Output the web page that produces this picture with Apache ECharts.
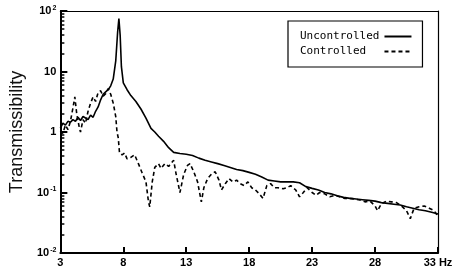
<!DOCTYPE html>
<html><head><meta charset="utf-8">
<script src="https://cdn.jsdelivr.net/npm/echarts@6/dist/echarts.min.js"></script>
<style>html,body{margin:0;padding:0;background:#fff}#c{width:465px;height:271px}</style>
</head><body><div id="c"></div>
<script>
const xTicks = [3, 8, 13, 18, 23, 28, 33];
const yMajor = [0.01, 0.1, 1, 10, 100];
const yMinor = [0.02,0.03,0.04,0.05,0.06,0.07,0.08,0.09,0.2,0.3,0.4,0.5,0.6,0.7,0.8,0.9,2,3,4,5,6,7,8,9,20,30,40,50,60,70,80,90];

const uncFreq = [3.0,3.2,3.4,3.6,3.8,4.0,4.2,4.4,4.6,4.8,5.0,5.2,5.4,5.6,5.8,6.0,6.2,6.4,6.6,6.8,7.0,7.2,7.4,7.55,7.65,7.75,7.85,8.0,8.3,8.6,9.0,9.4,9.8,10.2,10.5,10.8,11.2,11.6,12.0,12.5,13.0,13.5,14.0,14.5,15.0,15.5,16.0,16.5,17.0,17.5,18.0,18.5,19.0,19.5,20.0,20.5,21.0,21.5,22.0,22.5,23.0,23.5,24.0,24.5,25.0,25.5,26.0,26.5,27.0,27.5,28.0,28.5,29.0,29.5,30.0,30.5,31.0,31.5,32.0,32.5,33.0];
const uncVal = [1.15,1.4,1.3,1.5,1.45,1.6,1.5,1.75,1.55,1.8,1.7,1.6,1.9,1.75,2.2,2.6,3.4,4.2,4.6,5.0,5.8,7.5,15,45,75,40,12,6.5,5.0,4.0,3.2,2.4,1.7,1.15,1.0,0.85,0.7,0.55,0.46,0.44,0.43,0.41,0.37,0.34,0.32,0.3,0.28,0.26,0.24,0.23,0.215,0.2,0.18,0.16,0.155,0.15,0.15,0.15,0.145,0.125,0.117,0.11,0.1,0.095,0.088,0.083,0.08,0.078,0.076,0.074,0.072,0.068,0.066,0.064,0.062,0.058,0.055,0.052,0.05,0.047,0.044];

const conFreq = [3.0,3.2,3.4,3.6,3.8,4.0,4.15,4.3,4.5,4.6,4.8,5.0,5.2,5.4,5.6,5.8,6.0,6.2,6.4,6.6,6.8,7.0,7.2,7.4,7.5,7.6,7.7,7.9,8.1,8.3,8.6,8.9,9.2,9.5,9.8,10.0,10.1,10.3,10.5,10.8,11.0,11.3,11.6,12.0,12.2,12.5,12.8,13.1,13.3,13.6,13.9,14.2,14.4,14.7,15.0,15.3,15.6,15.8,16.1,16.4,16.7,17.0,17.3,17.6,17.9,18.2,18.5,18.8,19.1,19.4,19.7,20.0,20.3,20.7,21.0,21.3,21.7,22.0,22.3,22.6,23.0,23.3,23.6,24.0,24.4,24.8,25.2,25.6,26.0,26.4,26.8,27.2,27.6,28.0,28.2,28.5,28.9,29.3,29.7,30.1,30.5,30.8,31.1,31.5,31.9,32.3,32.7,33.0];
const conVal = [1.05,0.95,1.3,1.1,1.5,2.5,3.8,2.0,1.2,1.0,1.6,1.4,2.2,3.0,3.8,3.2,4.5,4.8,3.9,4.3,5.2,4.2,3.0,1.8,1.0,0.8,0.45,0.42,0.45,0.36,0.38,0.42,0.3,0.21,0.15,0.07,0.058,0.15,0.26,0.3,0.25,0.3,0.27,0.34,0.2,0.1,0.2,0.28,0.3,0.22,0.15,0.07,0.12,0.17,0.2,0.22,0.16,0.11,0.14,0.17,0.15,0.16,0.14,0.13,0.15,0.12,0.11,0.095,0.08,0.13,0.14,0.12,0.12,0.115,0.12,0.13,0.11,0.085,0.1,0.12,0.1,0.09,0.1,0.095,0.085,0.09,0.085,0.08,0.08,0.078,0.075,0.07,0.072,0.06,0.05,0.065,0.072,0.07,0.068,0.06,0.05,0.037,0.055,0.058,0.06,0.055,0.05,0.04];

const pair = (xs, ys) => xs.map((x, i) => [x, ys[i]]);
const supLabel = v => {
  if (v >= 99) return '10{s|2}';
  if (v >= 9.9) return '10';
  if (v >= 0.99) return '1';
  if (v >= 0.099) return '10{s|-1}';
  return '10{s|-2}';
};
const lab = {color:'#000', fontFamily:'Liberation Sans', fontWeight:'bold', fontSize:11};
const expOf = a => a.map(v => Math.log10(v));

const chart = echarts.init(document.getElementById('c'), null, {renderer:'canvas'});
chart.setOption({
  animation:false,
  grid:{left:58, right:27, top:11, bottom:18},
  legend:{
    left:288, top:21, orient:'vertical', align:'right',
    padding:[10,10,10,12], itemGap:4, itemWidth:27, itemHeight:12,
    borderColor:'#000', borderWidth:1.2, backgroundColor:'#fff',
    itemStyle:{opacity:0},
    textStyle:{fontFamily:'DejaVu Sans Mono', fontSize:11, color:'#000'},
    formatter: n => n.padEnd(12, ' '),
    data:['Uncontrolled','Controlled']
  },
  xAxis:[{
    type:'value', min:3, max:33, position:'bottom',
    axisLine:{show:true, onZero:false, lineStyle:{color:'#000', width:2}},
    axisTick:{show:true, inside:true, length:6, customValues:xTicks, lineStyle:{color:'#000', width:2}},
    axisLabel:{...lab, margin:4, customValues:xTicks, formatter: v => v === 33 ? '33 Hz' : String(v)},
    splitLine:{show:false}
  },{
    type:'value', min:3, max:33, position:'top',
    axisLine:{show:true, onZero:false, lineStyle:{color:'#000', width:1.2}},
    axisTick:{show:false}, axisLabel:{show:false}, splitLine:{show:false}
  }],
  yAxis:[{
    type:'log', logBase:10, min:0.01, max:100, position:'left',
    name:'Transmissibility', nameLocation:'middle', nameGap:27,
    nameTextStyle:{fontFamily:'Liberation Sans', fontSize:18, color:'#111'},
    axisLine:{show:true, lineStyle:{color:'#000', width:2}},
    axisTick:{show:true, inside:true, length:7, lineStyle:{color:'#000', width:2}},
    axisLabel:{...lab, margin:4, formatter:supLabel,
      rich:{s:{fontFamily:'Liberation Sans', fontWeight:'bold', fontSize:7, verticalAlign:'top', padding:[0,0,6,1], color:'#000'}}},
    splitLine:{show:false}, minorTick:{show:false}
  },{
    type:'value', min:-2, max:2, position:'left', offset:0,
    axisLine:{show:true, onZero:false, lineStyle:{color:'#000', width:2}},
    axisTick:{show:true, inside:true, length:4, customValues:expOf(yMinor), lineStyle:{color:'#000', width:1.5}},
    axisLabel:{show:false}, splitLine:{show:false}
  },{
    type:'value', min:-2, max:2, position:'right',
    axisLine:{show:true, onZero:false, lineStyle:{color:'#000', width:1.2}},
    axisTick:{show:false}, axisLabel:{show:false}, splitLine:{show:false}
  }],
  series:[
    {name:'Uncontrolled', type:'line', data:pair(uncFreq, uncVal), symbol:'none', smooth:false,
     lineStyle:{color:'#000', width:1.6}, itemStyle:{color:'#000'}},
    {name:'Controlled', type:'line', data:pair(conFreq, conVal), symbol:'none', smooth:false,
     lineStyle:{color:'#000', width:1.6, type:[4,3]}, itemStyle:{color:'#000'}}
  ]
});
</script></body></html>
